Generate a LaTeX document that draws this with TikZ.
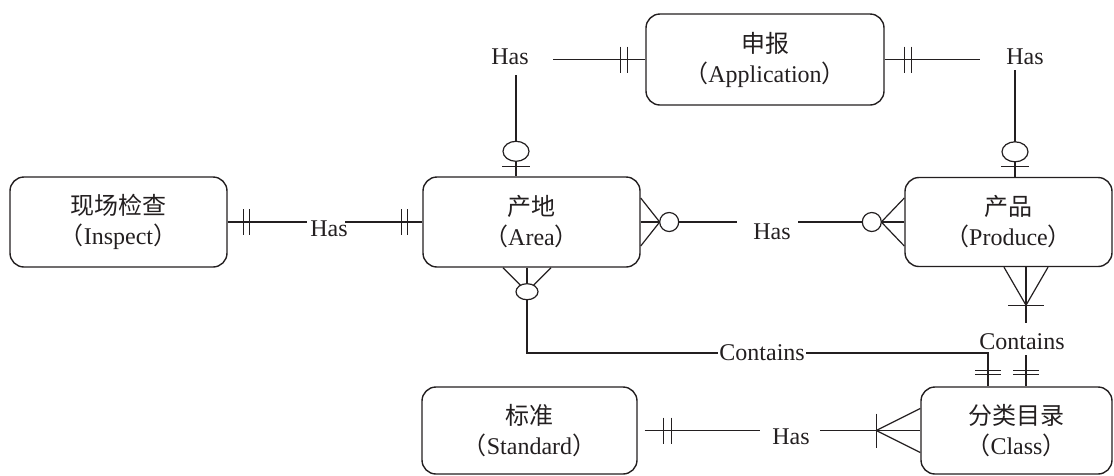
\documentclass[tikz,border=0pt]{standalone}
\usepackage{fontspec}
\setmainfont{Liberation Serif}
\newfontfamily\cjk{Noto Sans CJK SC}
\usetikzlibrary{calc}
\newcommand{\lpar}{{\cjk （}}
\newcommand{\rpar}{{\cjk ）}}
\definecolor{inkc}{HTML}{231F20}

\begin{document}
\begin{tikzpicture}[x=1pt,y=-1pt,
  entity/.style={draw=inkc, text=inkc, line width=1.4pt, rounded corners=14pt,
    align=center, inner sep=0pt, font=\fontsize{24}{30}\selectfont},
  rel/.style={text=inkc, font=\fontsize{24}{30}\selectfont, inner sep=1pt},
  link/.style={draw=inkc, line width=1.2pt},
  ring/.style={draw=inkc, line width=1.2pt, fill=white},
]
\useasboundingbox (0,0) rectangle (1114,475);

% entities
\node[entity, minimum width=238pt, minimum height=91pt] (app)  at (765,59.5)   {{\cjk 申报}\\\lpar Application\rpar};
\node[entity, minimum width=217pt, minimum height=90pt] (insp) at (118.5,222)  {{\cjk 现场检查}\\\lpar Inspect\rpar};
\node[entity, minimum width=217pt, minimum height=90pt] (area) at (531.5,222)  {{\cjk 产地}\\\lpar Area\rpar};
\node[entity, minimum width=207pt, minimum height=89pt] (prod) at (1008.5,222) {{\cjk 产品}\\\lpar Produce\rpar};
\node[entity, minimum width=215pt, minimum height=87pt] (std)  at (529.5,430.5) {{\cjk 标准}\\\lpar Standard\rpar};
\node[entity, minimum width=191pt, minimum height=87pt] (cls)  at (1016.5,430.5) {{\cjk 分类目录}\\\lpar Class\rpar};

% relationship labels
\node[rel] (hasA) at (510,57)  {Has};
\node[rel] (hasB) at (1025,57) {Has};
\node[rel] (hasC) at (329,229) {Has};
\node[rel] (hasD) at (772,232) {Has};
\node[rel] (hasE) at (791,437) {Has};

% Application -- Has -- Area
\coordinate (a1) at (553,59.5);
\coordinate (a2) at (516,75);
\coordinate (aT) at (a2 |- area.north);
\draw[link] (app.west) -- (a1);
\draw[link] ($(app.west)+(-18,-13)$) -- ++(0,26);
\draw[link] ($(app.west)+(-25,-13)$) -- ++(0,26);
\draw[link] (a2) -- (aT);
\draw[link] ($(aT)+(-14,-10)$) -- ++(28,0);
\draw[ring] ($(aT)+(0,-25)$) ellipse [x radius=13pt, y radius=10pt];

% Application -- Has -- Produce
\coordinate (b1) at (980,59.5);
\coordinate (b2) at (1015,70);
\coordinate (bT) at (b2 |- prod.north);
\draw[link] (app.east) -- (b1);
\draw[link] ($(app.east)+(20,-13)$) -- ++(0,26);
\draw[link] ($(app.east)+(27,-13)$) -- ++(0,26);
\draw[link] (b2) -- (bT);
\draw[link] ($(bT)+(-14,-10)$) -- ++(28,0);
\draw[ring] ($(bT)+(0,-25)$) ellipse [x radius=13pt, y radius=10pt];

% Inspect -- Has -- Area
\coordinate (c1) at (307,222);
\coordinate (c2) at (345,222);
\draw[link] (insp.east) -- (c1);
\draw[link] ($(insp.east)+(16,-13)$) -- ++(0,26);
\draw[link] ($(insp.east)+(22,-13)$) -- ++(0,26);
\draw[link] (c2) -- (area.west);
\draw[link] ($(area.west)+(-15,-13)$) -- ++(0,26);
\draw[link] ($(area.west)+(-21,-13)$) -- ++(0,26);

% Area -- Has -- Produce
\coordinate (d1) at (737,222);
\coordinate (d2) at (798,222);
\coordinate (dA) at ($(area.east)+(19,0)$);
\coordinate (dP) at ($(prod.west)+(-23,0)$);
\draw[link] ($(area.east)+(0,-24)$) -- (dA) -- ($(area.east)+(0,24)$);
\draw[link] (area.east) -- (dA);
\draw[link] ($(dA)+(19,0)$) -- (d1);
\draw[ring] ($(dA)+(9.5,0)$) circle [radius=9.5pt];
\draw[link] ($(prod.west)+(0,-24)$) -- (dP) -- ($(prod.west)+(0,24)$);
\draw[link] (prod.west) -- (dP);
\draw[link] (d2) -- ($(dP)+(-19,0)$);
\draw[ring] ($(dP)+(-9.5,0)$) circle [radius=9.5pt];

% Area -- Contains -- Class
\coordinate (e0) at ($(area.south)+(-4.5,0)$);
\coordinate (eC) at ($(e0)+(0,24)$);
\coordinate (k) at (988,353);
\draw[link] ($(e0)+(-24,0)$) -- (eC) -- ($(e0)+(24,0)$);
\draw[link] (e0) -- (eC);
\draw[ring] (eC) ellipse [x radius=11pt, y radius=8pt];
\draw[link] ($(eC)+(0,8)$) |- node[rel, fill=white, pos=0.755] (conL) {Contains} (k) -- (k |- cls.north);
\draw[link] ($(k |- cls.north)+(-13,-16)$) -- ++(26,0);
\draw[link] ($(k |- cls.north)+(-13,-12)$) -- ++(26,0);

% Produce -- Contains -- Class
\coordinate (f0) at ($(prod.south)+(17.5,0)$);
\coordinate (fX) at ($(f0)+(0,38)$);
\coordinate (f1) at (1026,323);
\coordinate (f2) at (1026,355);
\node[rel] (conR) at (1022,342) {Contains};
\draw[link] ($(f0)+(-22,0)$) -- (fX) -- ($(f0)+(22,0)$);
\draw[link] (f0) -- (f1);
\draw[link] ($(fX)+(-18,0)$) -- ++(36,0);
\draw[link] (f2) -- (f2 |- cls.north);
\draw[link] ($(f2 |- cls.north)+(-13,-16)$) -- ++(26,0);
\draw[link] ($(f2 |- cls.north)+(-13,-12)$) -- ++(26,0);

% Standard -- Has -- Class
\coordinate (g1) at (760,430.5);
\coordinate (g2) at (820,430.5);
\coordinate (gX) at ($(cls.west)+(-44,0)$);
\draw[link] ($(std.east)+(7,0)$) -- (g1);
\draw[link] ($(std.east)+(26,-13)$) -- ++(0,26);
\draw[link] ($(std.east)+(34,-13)$) -- ++(0,26);
\draw[link] (g2) -- (cls.west);
\draw[link] ($(cls.west)+(0,-22)$) -- (gX) -- ($(cls.west)+(0,22)$);
\draw[link] ($(gX)+(0,-17)$) -- ++(0,34);
\end{tikzpicture}
\end{document}
